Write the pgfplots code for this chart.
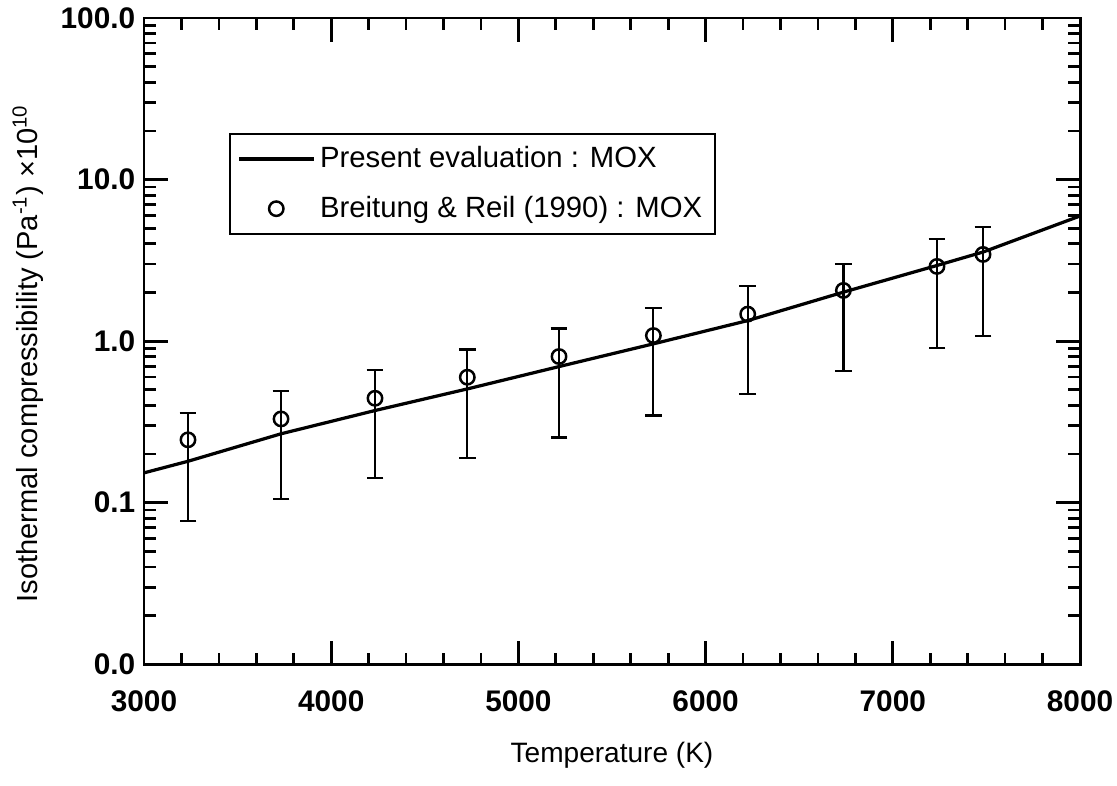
\documentclass[border=0pt]{standalone}
\usepackage{fontspec}
\setmainfont{Liberation Sans}
\usepackage{pgfplots}
\pgfplotsset{compat=1.18}

% Breitung & Reil (1990) points, asymmetric error bars (value, +err, -err)
\pgfplotstableread{
x     y      ep     em
3235  0.245  0.116  0.168
3732  0.330  0.162  0.225
4234  0.443  0.221  0.301
4727  0.598  0.289  0.409
5217  0.803  0.394  0.550
5721  1.083  0.517  0.737
6225  1.470  0.720  0.997
6736  2.060  0.950  1.408
7236  2.900  1.400  1.991
7482  3.440  1.650  2.366
}\breitung

\begin{document}
\begin{tikzpicture}
\begin{axis}[
  scale only axis,
  width=377pt, height=260.3pt,
  xmin=3000, xmax=8000,
  ymode=log, ymin=0.01, ymax=100,
  xtick={3000,4000,...,8000},
  minor x tick num=4,
  ytick={0.01,0.1,1,10,100},
  yticklabels={0.0,0.1,1.0,10.0,100.0},
  /pgf/number format/assume math mode=true,
  /pgf/number format/1000 sep={},
  ticklabel style={font=\fontsize{12}{14}\selectfont\bfseries},
  xticklabel style={yshift=-7pt},
  axis line style={line width=1.2pt},
  every tick/.style={black, line width=1.1pt},
  major tick length=9.5pt,
  minor tick length=4.7pt,
  xlabel={Temperature (K)},
  ylabel={Isothermal compressibility (Pa\textsuperscript{-1}) ×10\textsuperscript{10}},
  every axis x label/.style={at={(axis description cs:0.5,0)}, yshift=-36.7pt,
    anchor=center, font=\fontsize{11.3}{13}\selectfont},
  every axis y label/.style={at={(axis description cs:0,0.481)}, xshift=-46.7pt,
    rotate=90, anchor=center, font=\fontsize{11.7}{13}\selectfont},
  legend style={at={(axis description cs:0.0908,0.822)}, anchor=north west,
    draw=black, line width=0.8pt, font=\fontsize{11.8}{14}\selectfont,
    row sep=6pt, inner sep=3pt},
  legend cell align=left,
  legend image code/.code={%
    \draw[mark repeat=2, mark phase=2, #1]
      plot coordinates {(0pt,0pt) (15pt,0pt) (30pt,0pt)};},
]
\addplot[black, line width=1.3pt] coordinates {
  (3000,0.153) (3235,0.1805) (3732,0.267) (4234,0.372) (4727,0.506)
  (5217,0.696) (5721,0.962) (6225,1.34) (6736,2.01) (7236,2.94)
  (7482,3.56) (8000,5.95)
};
\addlegendentry{Present evaluation : MOX}
\addplot[black, only marks, mark=o, mark size=2.9pt,
  mark options={fill=white, line width=1pt},
  error bars/.cd, y dir=both, y explicit,
  error bar style={line width=0.9pt},
  error mark options={rotate=90, mark size=3.4pt, line width=0.9pt}]
  table[x=x, y=y, y error plus=ep, y error minus=em] {\breitung};
\addlegendentry{Breitung \& Reil (1990) : MOX}
\end{axis}
\pgfresetboundingbox
\path (current axis.south west) ++(-58pt,-48.75pt) coordinate (bl);
\path (current axis.north east) ++(14.9pt,7.25pt) coordinate (tr);
\path (bl) rectangle (tr);
\end{tikzpicture}
\end{document}
